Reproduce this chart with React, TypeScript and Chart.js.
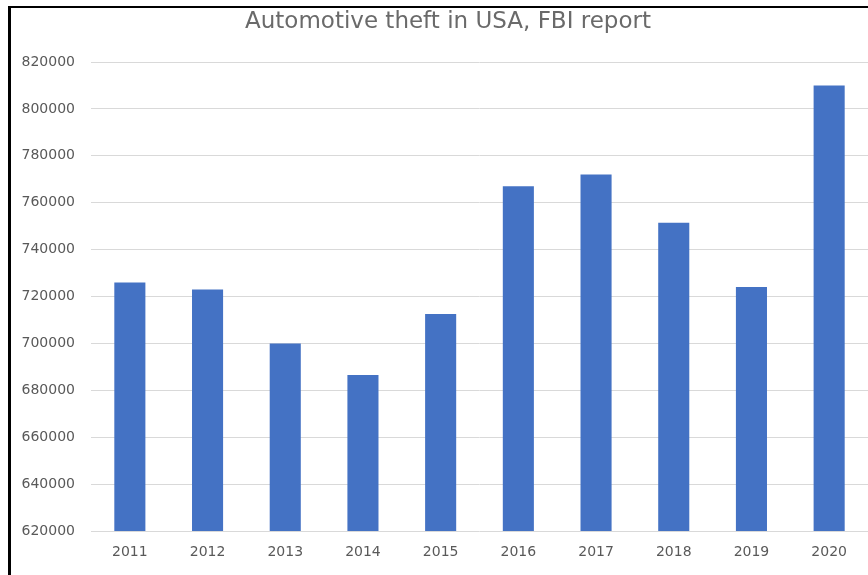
import React, { useEffect, useRef } from 'react';
import { Chart, registerables } from 'chart.js';

Chart.register(...registerables);

const years = ['2011', '2012', '2013', '2014', '2015', '2016', '2017', '2018', '2019', '2020'];
const thefts = [726000, 723000, 700000, 686500, 712500, 767000, 772000, 751500, 724000, 810000];
const yMin = 620000;
const yMax = 820000;
const yStep = 20000;
const chartTitle = 'Automotive theft in USA, FBI report';

const textColor = '#595959';
const fontFamily = '"DejaVu Sans", "Liberation Sans", sans-serif';

const titlePlugin = {
  id: 'offsetTitle',
  afterDraw(chart: any) {
    const ctx = chart.ctx;
    ctx.save();
    ctx.font = `normal 23px ${fontFamily}`;
    ctx.fillStyle = '#6a6a6a';
    ctx.textAlign = 'center';
    ctx.textBaseline = 'middle';
    ctx.fillText(chartTitle, 448, 22);
    ctx.restore();
  },
};

export default function App() {
  const canvasRef = useRef<HTMLCanvasElement | null>(null);

  useEffect(() => {
    if (!canvasRef.current) return;
    const chart = new Chart(canvasRef.current, {
      type: 'bar',
      data: {
        labels: years,
        datasets: [
          {
            label: 'Thefts',
            data: thefts,
            backgroundColor: '#4472C4',
            borderWidth: 0,
            barPercentage: 0.4,
            categoryPercentage: 1.0,
          },
        ],
      },
      plugins: [titlePlugin],
      options: {
        responsive: false,
        animation: false,
        layout: { padding: { left: 11, right: 0, top: 62, bottom: 15 } },
        plugins: {
          legend: { display: false },
          tooltip: { enabled: false },
          title: { display: false },
        },
        scales: {
          x: {
            grid: { display: false, drawTicks: false },
            border: { display: false },
            ticks: {
              color: textColor,
              font: { family: fontFamily, size: 14 },
              padding: 13,
              maxRotation: 0,
            },
            afterFit: (scale: any) => {
              scale.height = 29;
            },
          },
          y: {
            min: yMin,
            max: yMax,
            grid: { color: '#D9D9D9', lineWidth: 1, drawTicks: false },
            border: { display: false },
            ticks: {
              stepSize: yStep,
              color: textColor,
              font: { family: fontFamily, size: 14 },
              padding: 16,
              callback: (v: any) => String(v),
            },
            afterFit: (scale: any) => {
              scale.width = 80;
            },
          },
        },
      },
    });
    return () => chart.destroy();
  }, []);

  return (
    <div
      style={{
        position: 'fixed',
        left: 0,
        top: 0,
        width: 868,
        height: 575,
        background: '#ffffff',
        overflow: 'hidden',
      }}
    >
      <canvas
        ref={canvasRef}
        width={868}
        height={575}
        style={{ position: 'absolute', left: 0, top: 0, width: 868, height: 575 }}
      />
      <div
        style={{
          position: 'absolute',
          left: 8,
          top: 6,
          width: 868,
          height: 575,
          borderLeft: '3px solid #000',
          borderTop: '2px solid #000',
          boxSizing: 'border-box',
          pointerEvents: 'none',
        }}
      />
    </div>
  );
}
